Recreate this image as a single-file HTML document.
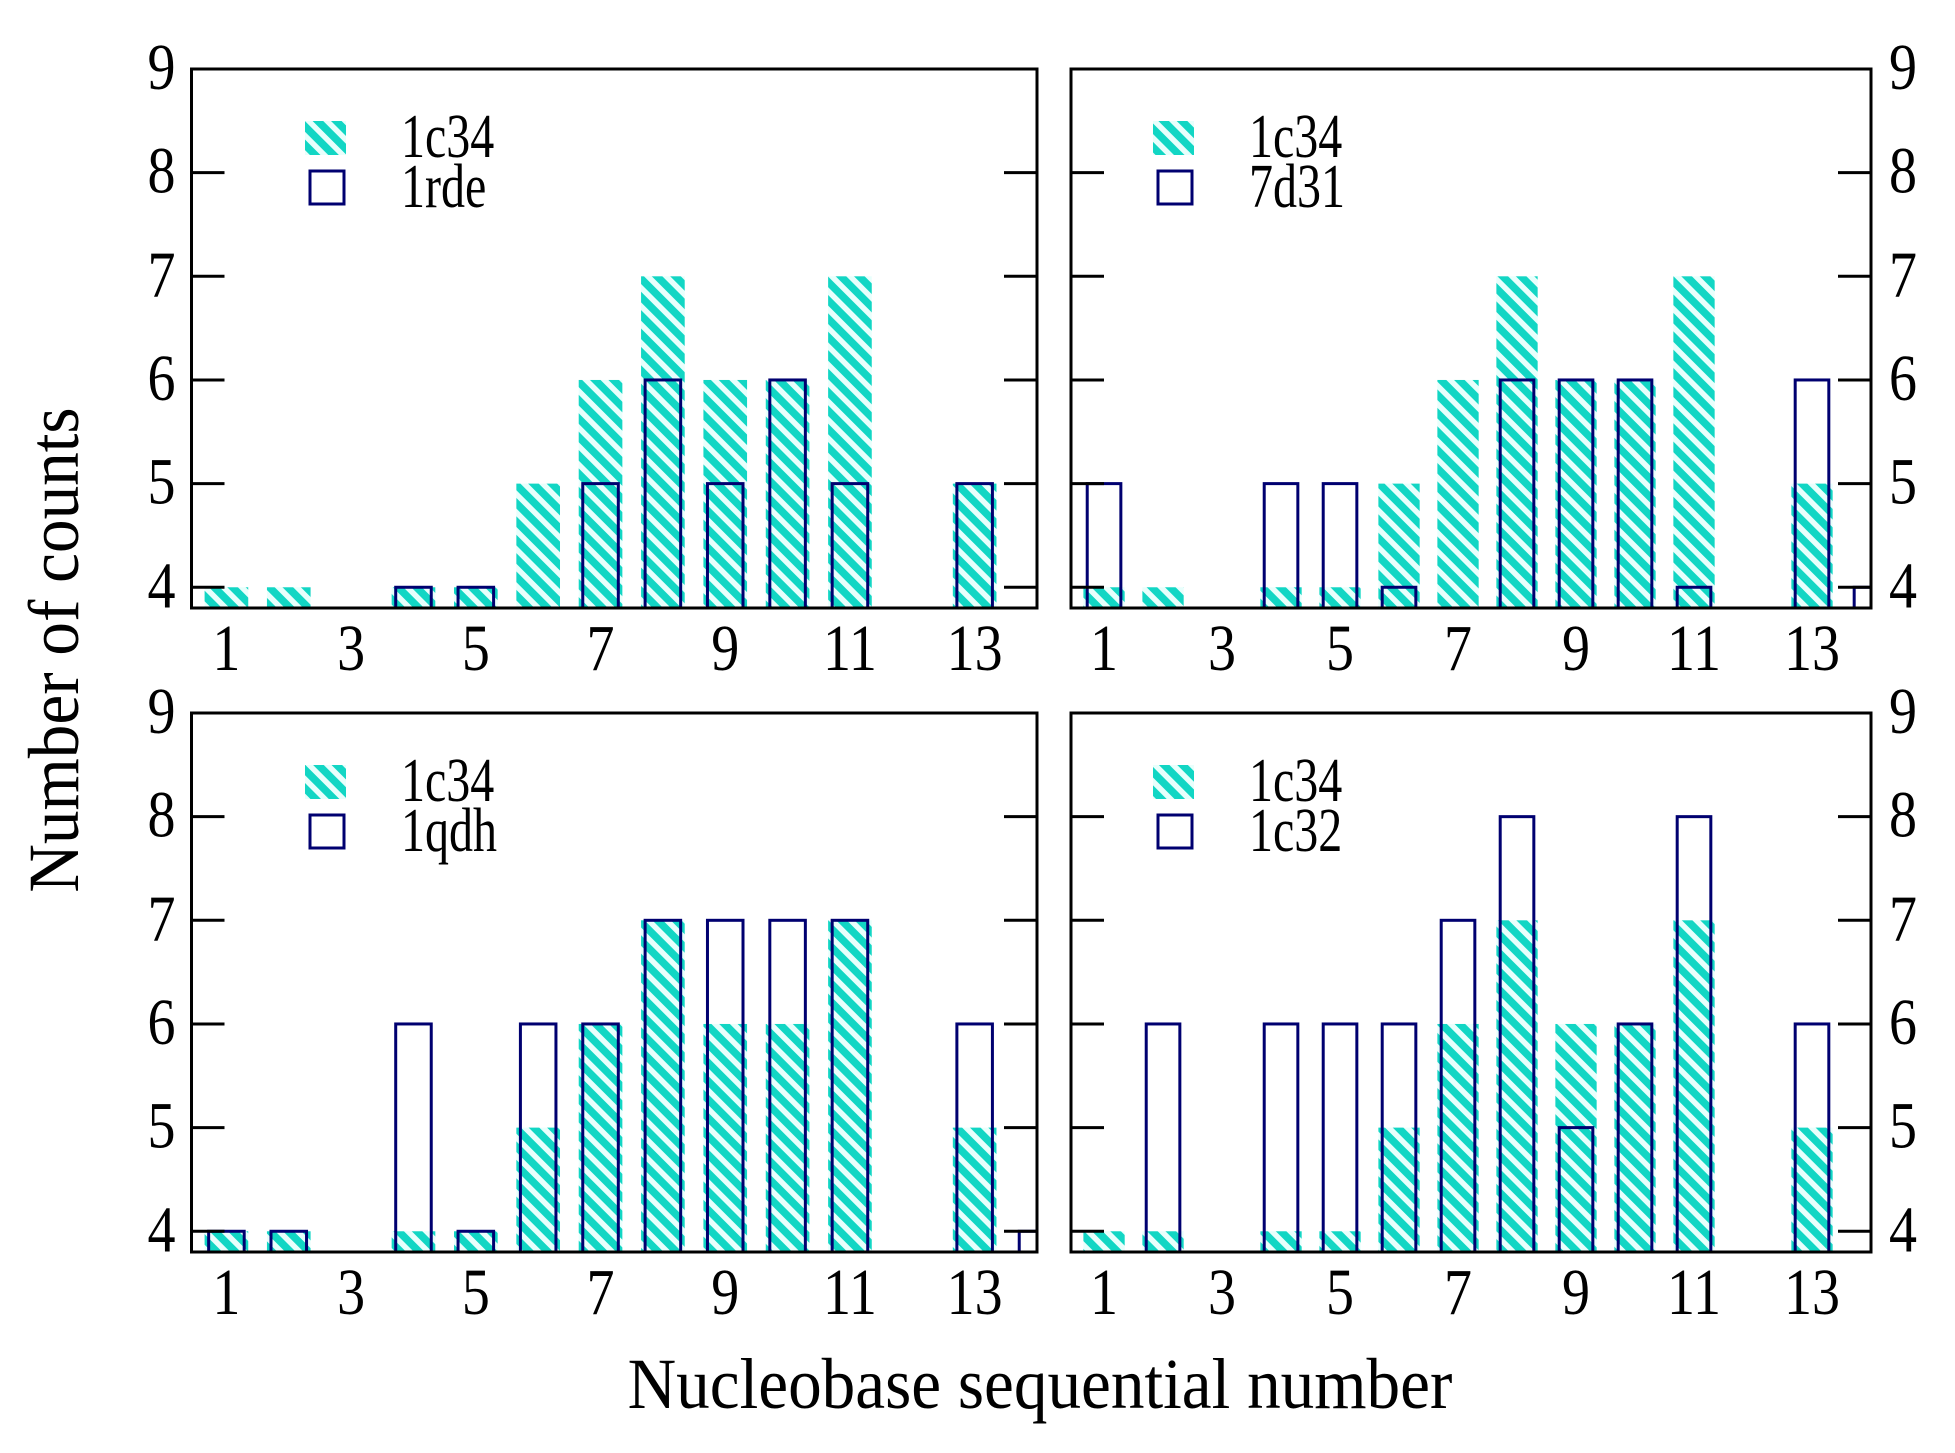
<!DOCTYPE html>
<html><head><meta charset="utf-8"><style>
html,body{margin:0;padding:0;background:#fff;}
svg{display:block;font-family:"Liberation Serif",serif;}
</style></head><body>
<svg id="chart" width="1955" height="1453" viewBox="0 0 1955 1453" xmlns="http://www.w3.org/2000/svg">
<defs>
<pattern id="hatch" patternUnits="userSpaceOnUse" width="13" height="13" patternTransform="rotate(-45)">
<rect width="13" height="13" fill="#12d6c4"/>
<rect x="0" y="0" width="5.5" height="13" fill="#e8fffc"/>
</pattern>
</defs>
<text font-size="64" text-anchor="middle" transform="translate(78 650) rotate(-90) scale(1.05 1.12)">Number of counts</text>
<text font-size="64" text-anchor="middle" transform="translate(1040 1408) scale(1.05 1.12)">Nucleobase sequential number</text>
</svg>
<script>
const categories = [1,2,3,4,5,6,7,8,9,10,11,12,13,14];
const ref1c34 = [4,4,null,4,4,5,6,7,6,6,7,null,5,null];
const s1rde = [null,null,null,4,4,null,5,6,5,6,5,null,5,null];
const s7d31 = [5,null,null,5,5,4,null,6,6,6,4,null,6,4];
const s1qdh = [4,4,null,6,4,6,6,7,7,7,7,null,6,4];
const s1c32 = [null,6,null,6,6,6,7,8,5,6,8,null,6,null];
const yTicks = [4,5,6,7,8,9];
const xTicks = [1,3,5,7,9,11,13];
const seriesNames = ["1rde","7d31","1qdh","1c32"];
const seriesData = [s1rde,s7d31,s1qdh,s1c32];

const panels = [
  {l:191.5,r:1037,t:69,b:608,side:"left",legX:305,legY:121},
  {l:1071,r:1871,t:69,b:608,side:"right",legX:1153,legY:121},
  {l:191.5,r:1037,t:713,b:1252,side:"left",legX:305,legY:765},
  {l:1071,r:1871,t:713,b:1252,side:"right",legX:1153,legY:765}
];
const svg = document.getElementById('chart');
const NS = 'http://www.w3.org/2000/svg';
function mk(tag, attrs, parent){
  const e = document.createElementNS(NS, tag);
  for (const k in attrs) e.setAttribute(k, attrs[k]);
  (parent||svg).appendChild(e);
  return e;
}
function txt(parent, x, y, size, sy, anchor, s){
  const e = mk('text', {'font-size': size, 'text-anchor': anchor, transform: 'translate(' + x + ' ' + y + ') scale(1 ' + sy + ')'}, parent);
  e.textContent = s;
  return e;
}
const X0 = 0.44, X1 = 14.0, Y0 = 3.8, Y1 = 9;
panels.forEach((p, pi) => {
  const xs = v => p.l + (v - X0) / (X1 - X0) * (p.r - p.l);
  const ys = v => p.b - (v - Y0) / (Y1 - Y0) * (p.b - p.t);
  const unit = (p.r - p.l) / (X1 - X0);
  const g = mk('g', {});
  
  
  const clipId = 'clip' + pi;
  const cp = mk('clipPath', {id: clipId}, g);
  mk('rect', {x: p.l, y: p.t, width: p.r - p.l, height: p.b - p.t}, cp);
  const bars = mk('g', {'clip-path': 'url(#' + clipId + ')'}, g);
  categories.forEach((c, i) => {
    const v = ref1c34[i];
    if (v == null) return;
    const w = unit * 0.7;
    const r = mk('rect', {x: xs(c) - w / 2, y: ys(v), width: w, height: ys(Y0) - ys(v), fill: 'url(#hatch)'}, bars);
    
    
  });
  const sd = seriesData[pi];
  categories.forEach((c, i) => {
    const v = sd[i];
    if (v == null) return;
    const w = unit * 0.57;
    const r = mk('rect', {x: xs(c) - w / 2, y: ys(v), width: w, height: ys(Y0) - ys(v) + 3, fill: 'none', stroke: '#000070', 'stroke-width': 3}, bars);
    
    
  });
  yTicks.forEach(t => {
    const y = ys(t);
    mk('line', {x1: p.l, x2: p.l + 33, y1: y, y2: y, stroke: '#000', 'stroke-width': 3}, g);
    mk('line', {x1: p.r - 33, x2: p.r, y1: y, y2: y, stroke: '#000', 'stroke-width': 3}, g);
    const tx = p.side === 'left' ? p.l - 30 : p.r + 32;
    const lab = txt(g, tx, y + 20, 56, 1.18, 'middle', t);
    
    
  });
  xTicks.forEach(t => {
    const lab = txt(g, xs(t), p.b + 62, 56, 1.18, 'middle', t);
    
    
  });
  const frame = mk('rect', {x: p.l, y: p.t, width: p.r - p.l, height: p.b - p.t, fill: 'none', stroke: '#000', 'stroke-width': 3}, g);
  
  
  const lg = mk('g', {}, g);
  
  
  mk('rect', {x: p.legX, y: p.legY, width: 41, height: 34, fill: 'url(#hatch)'}, lg);
  txt(lg, p.legX + 96, p.legY + 36, 48, 1.3, 'start', '1c34');
  mk('rect', {x: p.legX + 5, y: p.legY + 50, width: 34, height: 33, fill: 'none', stroke: '#000070', 'stroke-width': 3}, lg);
  txt(lg, p.legX + 96, p.legY + 86, 48, 1.3, 'start', seriesNames[pi]);
});
</script>
</body></html>
